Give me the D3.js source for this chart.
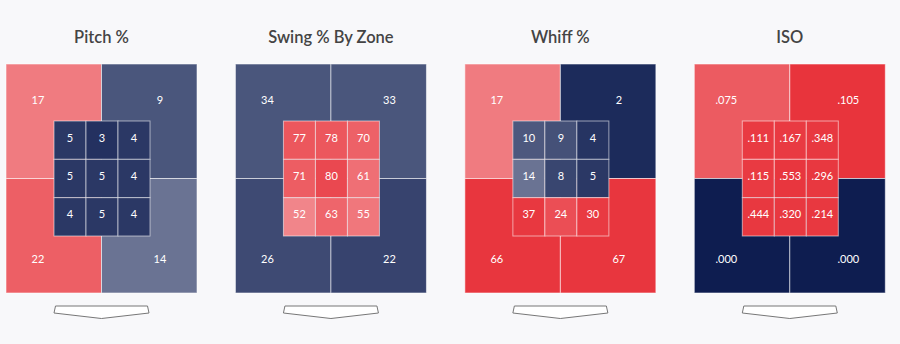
<!DOCTYPE html>
<html><head><meta charset="utf-8">
<script src="https://cdn.jsdelivr.net/npm/d3@7"></script>
<style>
html,body{margin:0;padding:0;background:#f8f8fa;}
svg{display:block;}
</style></head>
<body>
<svg id="chart" width="900" height="344"></svg>
<script>
// ---- data ----
const titles = ["Pitch %", "Swing % By Zone", "Whiff %", "ISO"];
// outer quadrants: TL, TR, BL, BR
const pitchOuter = [17, 9, 22, 14];
const swingOuter = [34, 33, 26, 22];
const whiffOuter = [17, 2, 66, 67];
const isoOuter   = [0.075, 0.105, 0.000, 0.000];
// inner 3x3 zone, row by row
const pitchInner = [5, 3, 4, 5, 5, 4, 4, 5, 4];
const swingInner = [77, 78, 70, 71, 80, 61, 52, 63, 55];
const whiffInner = [10, 9, 4, 14, 8, 5, 37, 24, 30];
const isoInner   = [0.111, 0.167, 0.348, 0.115, 0.553, 0.296, 0.444, 0.320, 0.214];
// heat relative to league (-1 = cold/blue, +1 = hot/red)
const pitchOuterHeat = [0.65, -0.75, 0.79, -0.62];
const swingOuterHeat = [-0.75, -0.75, -0.80, -0.83];
const whiffOuterHeat = [0.65, -0.94, 0.99, 0.99];
const isoOuterHeat   = [0.81, 1.0, -1.0, -1.0];
const pitchInnerHeat = [-0.88, -0.91, -0.88, -0.88, -0.88, -0.88, -0.88, -0.88, -0.88];
const swingInnerHeat = [0.83, 0.83, 0.78, 0.80, 0.90, 0.71, 0.60, 0.76, 0.67];
const whiffInnerHeat = [-0.74, -0.77, -0.90, -0.62, -0.82, -0.88, 0.98, 0.87, 0.97];
const isoInnerHeat   = [0.97, 0.97, 0.98, 0.97, 0.99, 0.98, 0.98, 0.98, 0.98];

const fmtInt = d => String(d);
const fmtIso = d => d3.format(".3f")(d).replace(/^0/, "");

const panels = [
  {title: titles[0], outer: pitchOuter, inner: pitchInner, oh: pitchOuterHeat, ih: pitchInnerHeat, fmt: fmtInt},
  {title: titles[1], outer: swingOuter, inner: swingInner, oh: swingOuterHeat, ih: swingInnerHeat, fmt: fmtInt},
  {title: titles[2], outer: whiffOuter, inner: whiffInner, oh: whiffOuterHeat, ih: whiffInnerHeat, fmt: fmtInt},
  {title: titles[3], outer: isoOuter, inner: isoInner, oh: isoOuterHeat, ih: isoInnerHeat, fmt: fmtIso}
];

// ---- layout ----
const W = 191, H = 229, TOP = 64;
const panelX = d3.scaleLinear().domain([0, 3]).range([6, 694.3]);
const qx = d3.scaleBand().domain([0, 1]).range([0, W]);
const qy = d3.scaleBand().domain([0, 1]).range([0, H]);
const ix = d3.scaleBand().domain([0, 1, 2]).range([48, 144]);
const iy = d3.scaleBand().domain([0, 1, 2]).range([57, 172]);
const labX = [32, 154], labY = [35, 194];

const navy = "#0e1d50", red = "#e8343c";
const color = d3.scaleDiverging()
  .domain([-1, 0, 1])
  .interpolator(t => t < 0.5 ? d3.interpolateRgb(navy, "#ffffff")(t * 2) : d3.interpolateRgb("#ffffff", red)((t - 0.5) * 2));

const svg = d3.select("#chart");
const FONT = "Lato, 'Open Sans', sans-serif";

const g = svg.selectAll("g.panel").data(panels).join("g")
  .attr("class", "panel")
  .attr("transform", (d, i) => `translate(${panelX(i)},0)`);

g.append("text")
  .attr("x", W / 2).attr("y", 37)
  .attr("text-anchor", "middle").attr("dominant-baseline", "central")
  .attr("font-family", FONT).attr("font-size", 16.5).attr("font-weight", 600)
  .attr("fill", "#444")
  .text(d => d.title);

const body = g.append("g").attr("transform", `translate(0,${TOP})`);

// outer quadrants
body.selectAll("rect.q").data(d => d.outer.map((v, k) => ({v, k, h: d.oh[k], fmt: d.fmt}))).join("rect")
  .attr("class", "q")
  .attr("x", d => qx(d.k % 2)).attr("y", d => qy(Math.floor(d.k / 2)))
  .attr("width", qx.bandwidth()).attr("height", qy.bandwidth())
  .attr("fill", d => color(d.h))
  .attr("stroke", "rgba(255,255,255,0.55)").attr("stroke-width", 1);

body.selectAll("text.q").data(d => d.outer.map((v, k) => ({v, k, fmt: d.fmt}))).join("text")
  .attr("class", "q")
  .attr("x", d => labX[d.k % 2]).attr("y", d => labY[Math.floor(d.k / 2)])
  .attr("text-anchor", "middle").attr("dominant-baseline", "central")
  .attr("font-family", FONT).attr("font-size", 11).attr("fill", "#fff")
  .text(d => d.fmt(d.v));

// inner zone
body.selectAll("rect.z").data(d => d.inner.map((v, k) => ({v, k, h: d.ih[k]}))).join("rect")
  .attr("class", "z")
  .attr("x", d => ix(d.k % 3)).attr("y", d => iy(Math.floor(d.k / 3)))
  .attr("width", ix.bandwidth()).attr("height", iy.bandwidth())
  .attr("fill", d => color(d.h))
  .attr("stroke", "rgba(255,255,255,0.55)").attr("stroke-width", 1);

body.selectAll("text.z").data(d => d.inner.map((v, k) => ({v, k, fmt: d.fmt}))).join("text")
  .attr("class", "z")
  .attr("x", d => ix(d.k % 3) + ix.bandwidth() / 2)
  .attr("y", d => iy(Math.floor(d.k / 3)) + iy.bandwidth() / 2 - 3)
  .attr("text-anchor", "middle").attr("dominant-baseline", "central")
  .attr("font-family", FONT).attr("font-size", 11).attr("fill", "#fff")
  .text(d => d.fmt(d.v));

// home plate
const cx = W / 2;
const plate = [[cx - 46, 306], [cx + 46, 306], [cx + 47.5, 313], [cx, 318.5], [cx - 47.5, 313]];
g.append("path")
  .attr("d", d3.line()(plate) + "Z")
  .attr("fill", "#fff").attr("stroke", "#777").attr("stroke-width", 1);
</script>
</body></html>
